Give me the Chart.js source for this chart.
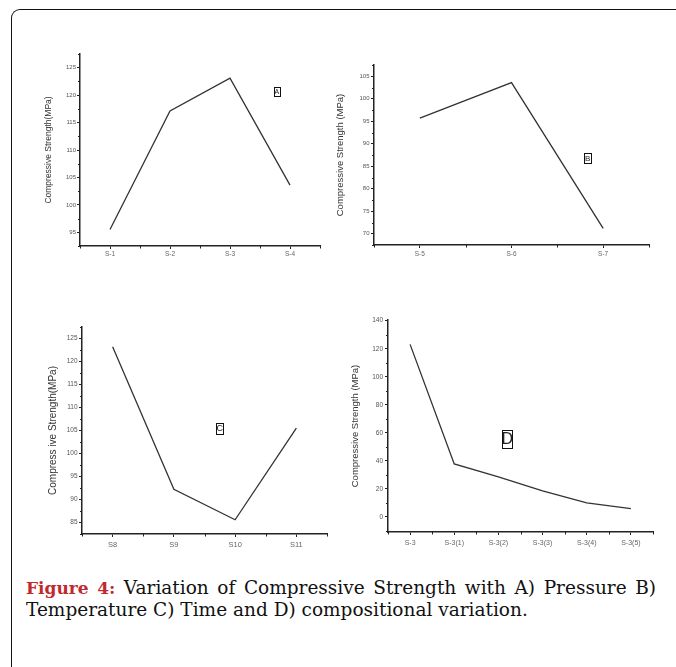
<!DOCTYPE html>
<html>
<head>
<meta charset="utf-8">
<script src="https://cdn.jsdelivr.net/npm/chart.js@4"></script>
<style>
  body{ margin:0; width:676px; height:667px; background:#fff; position:relative; overflow:hidden; }
  .frame{ position:absolute; left:11px; top:9px; width:900px; height:900px;
          border-top:1.5px solid #111; border-left:1.5px solid #111; border-top-left-radius:9px; }
  canvas{ position:absolute; }
  .caption{ position:absolute; left:26px; top:577px; width:630px; text-align:justify;
            font-family:"DejaVu Serif", serif; font-size:18.5px; line-height:22px; color:#111; }
  .caption b{ color:#bf2a2e; font-size:17px; }
</style>
</head>
<body>
<div class="frame"></div>
<canvas id="cA" width="306" height="225" style="left:24px;top:40px"></canvas>
<canvas id="cB" width="325" height="215" style="left:330px;top:50px"></canvas>
<canvas id="cC" width="310" height="245" style="left:24px;top:310px"></canvas>
<canvas id="cD" width="326" height="245" style="left:334px;top:305px"></canvas>
<div class="caption"><b>Figure 4:</b> Variation of Compressive Strength with A) Pressure B) Temperature C) Time and D) compositional variation.</div>

<script>
// ---- data ----
const catsA = ["S-1","S-2","S-3","S-4"]
const valsA = [95.5, 117.1, 123.1, 103.6]
const ticksA = [95, 100, 105, 110, 115, 120, 125]

const catsB = ["S-5","S-6","S-7"]
const valsB = [95.7, 103.6, 71.2]
const ticksB = [70, 75, 80, 85, 90, 95, 100, 105]

const catsC = ["S8","S9","S10","S11"]
const valsC = [123.2, 92.2, 85.6, 105.5]
const ticksC = [85, 90, 95, 100, 105, 110, 115, 120, 125]

const catsD = ["S-3","S-3(1)","S-3(2)","S-3(3)","S-3(4)","S-3(5)"]
const valsD = [123.1, 37.9, 28.6, 18.6, 10, 6]
const ticksD = [0, 20, 40, 60, 80, 100, 120, 140]

// ---- minor ticks + boxed panel letter ----
const extras = {
  id:"extras",
  afterDraw(chart, args, o){
    const ctx = chart.ctx
    const x = chart.scales.x, y = chart.scales.y
    ctx.save()
    ctx.strokeStyle = "#222"
    ctx.lineWidth = 1
    ctx.beginPath()
    // x minor ticks between categories
    for(let i=0;i<=chart.data.labels.length;i++){
      const px = Math.round(x.getPixelForValue(i-0.5)) + 0.5
      ctx.moveTo(px, y.bottom); ctx.lineTo(px, y.bottom + 2.5)
    }
    // y minor ticks
    for(let v=Math.ceil(y.min/o.minor)*o.minor; v<=y.max; v+=o.minor){
      if(Math.abs(v/o.major - Math.round(v/o.major)) < 1e-6) continue
      const py = Math.round(y.getPixelForValue(v)) + 0.5
      ctx.moveTo(x.left - 2, py); ctx.lineTo(x.left, py)
    }
    ctx.stroke()

    // boxed letter
    const bx = x.getPixelForValue(o.tagX), by = y.getPixelForValue(o.tagY)
    ctx.font = `${o.tagSize}px "Liberation Sans"`
    ctx.fillStyle = "#222"
    ctx.textAlign = "center"
    ctx.textBaseline = "middle"
    ctx.fillText(o.tag, bx, by + 0.5)
    ctx.strokeStyle = "#111"
    ctx.strokeRect(Math.round(bx - o.boxW/2) + 0.5, Math.round(by - o.boxH/2) + 0.5, o.boxW, o.boxH)
    ctx.restore()
  }
}

function makePanel(id, cats, vals, tickVals, p){

  const canvas = document.getElementById(id)
  const cx = parseFloat(canvas.style.left), cy = parseFloat(canvas.style.top)
  const cw = canvas.width, ch = canvas.height

  return new Chart(canvas, {
    type:"line",
    data:{
      labels:cats,
      datasets:[{
        data:vals,
        borderColor:"#333",
        borderWidth:1.3,
        pointRadius:0,
        tension:0,
        fill:false
      }]
    },
    options:{
      responsive:false,
      animation:false,
      layout:{ padding:{ top:p.top - cy, right:cx + cw - p.right, left:0, bottom:0 } },
      plugins:{
        legend:{display:false},
        tooltip:{enabled:false},
        extras:p.extras
      },
      scales:{
        x:{
          type:"category",
          offset:true,
          grid:{ drawOnChartArea:false, drawTicks:true, tickLength:3, color:"#222", offset:false },
          border:{ color:"#222", width:1.5 },
          ticks:{ color:"#666", font:{family:"Liberation Sans", size:p.xFont}, padding:p.xPad, maxRotation:0, autoSkip:false },
          afterFit(s){ s.height = cy + ch - p.bottom }
        },
        y:{
          min:p.min, max:p.max,
          grid:{ drawOnChartArea:false, drawTicks:true, tickLength:3, color:"#222" },
          border:{ color:"#222", width:1.5 },
          ticks:{ color:"#555", font:{family:"Liberation Sans", size:p.yFont}, padding:p.yPad },
          afterBuildTicks(s){ s.ticks = tickVals.map(v => ({value:v})) },
          title:{ display:true, text:p.title, color:"#333",
                  font:{family:"Liberation Sans", size:p.tFont, lineHeight:1},
                  padding:{top:p.tX - cx - p.tFont/2, bottom:0} },
          afterFit(s){ s.width = p.left - cx }
        }
      }
    },
    plugins:[extras]
  })
}

makePanel("cA", catsA, valsA, ticksA, {
  left:80, right:320, top:54, bottom:246,
  min:92.5, max:127.5,
  title:"Compressive Strength(MPa)", tFont:8.5, tX:49,
  xFont:6.5, xPad:1.5, yFont:6, yPad:1,
  extras:{ minor:2.5, major:5, tag:"A", tagX:2.78, tagY:120.6, tagSize:7, boxW:6, boxH:9 }
})

makePanel("cB", catsB, valsB, ticksB, {
  left:374, right:649, top:65, bottom:245,
  min:67.5, max:107.5,
  title:"Compressive Strength (MPa)", tFont:9.5, tX:340,
  xFont:6.5, xPad:2, yFont:6, yPad:1.5,
  extras:{ minor:2.5, major:5, tag:"B", tagX:1.83, tagY:86.8, tagSize:8, boxW:7, boxH:10 }
})

makePanel("cC", catsC, valsC, ticksC, {
  left:82, right:327, top:327, bottom:534,
  min:82.5, max:127.5,
  title:"Compress ive Strength(MPa)", tFont:10, tX:53,
  xFont:7.5, xPad:3.5, yFont:6.5, yPad:1.5,
  extras:{ minor:2.5, major:5, tag:"C", tagX:1.75, tagY:105.5, tagSize:9, boxW:7, boxH:11 }
})

makePanel("cD", catsD, valsD, ticksD, {
  left:388, right:653, top:320, bottom:532,
  min:-10.7, max:140.5,
  title:"Compressive Strength (MPa)", tFont:9.5, tX:355,
  xFont:7, xPad:3.5, yFont:6.5, yPad:2,
  extras:{ minor:10, major:20, tag:"D", tagX:2.2, tagY:55.3, tagSize:16, boxW:10, boxH:18 }
})
</script>
</body>
</html>
